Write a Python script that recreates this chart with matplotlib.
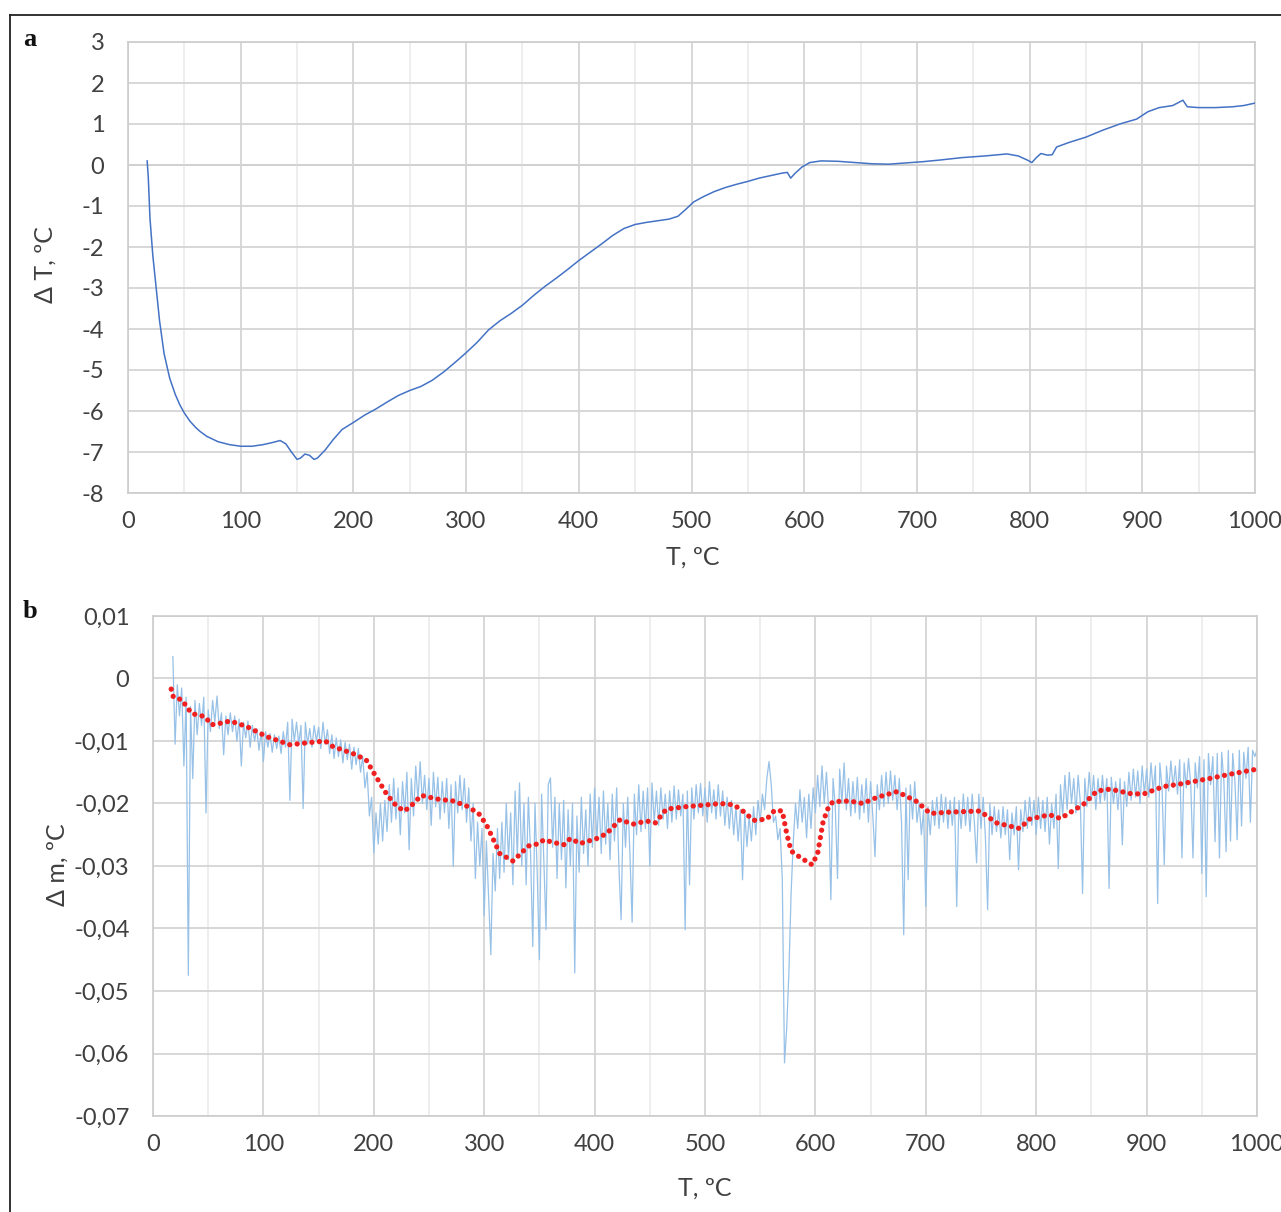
import numpy as np
import matplotlib
matplotlib.use("Agg")
import matplotlib.pyplot as plt
from matplotlib.lines import Line2D

# ---------------- Panel a : DTA curve ----------------
dta_T = [17, 18, 19.5, 22, 25, 28, 32, 37, 42, 46, 50, 55, 60, 64, 70, 80, 90, 100, 110, 120,
         128, 135, 140, 145, 150, 153, 157, 161, 165, 168, 175, 182, 190, 200, 210, 220, 230,
         240, 250, 260, 270, 280, 290, 300, 310, 320, 330, 340, 350, 360, 370, 380, 390, 400,
         410, 420, 430, 440, 450, 460, 470, 480, 488, 495, 502, 510, 520, 530, 540, 550, 560,
         570, 580, 585, 588, 592, 598, 605, 615, 630, 645, 660, 675, 690, 705, 720, 740, 760,
         780, 790, 798, 802, 806, 810, 816, 820, 824, 835, 850, 865, 880, 895, 905, 915, 927,
         936, 940, 950, 965, 980, 990, 1000]
dta_dT = [0.10, -0.3, -1.3, -2.2, -3.0, -3.8, -4.6, -5.2, -5.6, -5.85, -6.05, -6.25, -6.4, -6.5,
          -6.62, -6.75, -6.82, -6.86, -6.86, -6.82, -6.77, -6.72, -6.8, -7.0, -7.18, -7.15,
          -7.05, -7.08, -7.18, -7.15, -6.95, -6.7, -6.45, -6.28, -6.1, -5.95, -5.78, -5.62,
          -5.5, -5.4, -5.25, -5.05, -4.82, -4.58, -4.32, -4.02, -3.8, -3.62, -3.42, -3.18,
          -2.96, -2.76, -2.55, -2.33, -2.13, -1.93, -1.72, -1.55, -1.45, -1.4, -1.36, -1.32,
          -1.25, -1.08, -0.9, -0.78, -0.65, -0.55, -0.47, -0.4, -0.32, -0.26, -0.2, -0.18,
          -0.32, -0.2, -0.05, 0.06, 0.1, 0.09, 0.06, 0.03, 0.02, 0.05, 0.08, 0.12, 0.18, 0.22,
          0.27, 0.22, 0.12, 0.06, 0.18, 0.28, 0.24, 0.25, 0.44, 0.55, 0.68, 0.85, 1.0, 1.12,
          1.3, 1.4, 1.45, 1.58, 1.42, 1.4, 1.4, 1.42, 1.45, 1.51]

# ---------------- Panel b : TG difference (raw, 2 degC step from 18 to 1000) ----------------
tg_T_start, tg_T_end, tg_T_step = 18, 1000, 2
tg_dm = [
    0.0035, -0.0105, -0.0010, -0.0060, -0.0015, -0.0140, -0.0030, -0.0475, -0.0045, -0.0160,
    -0.0035, -0.0090, -0.0040, -0.0075, -0.0030, -0.0215, -0.0050, -0.0085, -0.0035, -0.0070,
    -0.0028, -0.0080, -0.0055, -0.0122, -0.0060, -0.0090, -0.0055, -0.0085, -0.0060, -0.0100,
    -0.0065, -0.0140, -0.0070, -0.0095, -0.0068, -0.0110, -0.0075, -0.0100, -0.0080, -0.0115,
    -0.0085, -0.0133, -0.0085, -0.0110, -0.0088, -0.0118, -0.0090, -0.0112, -0.0092, -0.0120,
    -0.0085, -0.0110, -0.0070, -0.0195, -0.0065, -0.0100, -0.0070, -0.0105, -0.0075, -0.0208,
    -0.0070, -0.0105, -0.0080, -0.0110, -0.0075, -0.0100, -0.0078, -0.0112, -0.0070, -0.0105,
    -0.0082, -0.0120, -0.0090, -0.0128, -0.0095, -0.0125, -0.0098, -0.0135, -0.0102, -0.0130,
    -0.0105, -0.0145, -0.0110, -0.0138, -0.0112, -0.0150, -0.0125, -0.0175, -0.0150, -0.0220,
    -0.0190, -0.0279, -0.0215, -0.0265, -0.0200, -0.0260, -0.0195, -0.0245, -0.0170, -0.0230,
    -0.0160, -0.0225, -0.0175, -0.0250, -0.0165, -0.0215, -0.0150, -0.0274, -0.0160, -0.0220,
    -0.0140, -0.0195, -0.0133, -0.0200, -0.0155, -0.0210, -0.0160, -0.0235, -0.0150, -0.0205,
    -0.0158, -0.0225, -0.0165, -0.0215, -0.0160, -0.0240, -0.0170, -0.0301, -0.0165, -0.0215,
    -0.0155, -0.0210, -0.0160, -0.0230, -0.0175, -0.0260, -0.0200, -0.0320, -0.0230, -0.0300,
    -0.0240, -0.0380, -0.0260, -0.0350, -0.0442, -0.0280, -0.0340, -0.0240, -0.0320, -0.0230,
    -0.0310, -0.0200, -0.0290, -0.0215, -0.0330, -0.0180, -0.0285, -0.0167, -0.0300, -0.0200,
    -0.0330, -0.0190, -0.0280, -0.0429, -0.0200, -0.0310, -0.0450, -0.0185, -0.0290, -0.0402,
    -0.0170, -0.0159, -0.0270, -0.0190, -0.0320, -0.0200, -0.0290, -0.0195, -0.0335, -0.0210,
    -0.0300, -0.0200, -0.0471, -0.0220, -0.0310, -0.0190, -0.0280, -0.0210, -0.0300, -0.0185,
    -0.0270, -0.0175, -0.0260, -0.0190, -0.0280, -0.0180, -0.0265, -0.0200, -0.0290, -0.0185,
    -0.0260, -0.0175, -0.0300, -0.0386, -0.0200, -0.0270, -0.0190, -0.0280, -0.0390, -0.0185,
    -0.0250, -0.0170, -0.0245, -0.0180, -0.0240, -0.0175, -0.0300, -0.0167, -0.0230, -0.0180,
    -0.0235, -0.0175, -0.0225, -0.0185, -0.0240, -0.0180, -0.0230, -0.0172, -0.0225, -0.0178,
    -0.0220, -0.0185, -0.0402, -0.0180, -0.0330, -0.0175, -0.0225, -0.0170, -0.0215, -0.0168,
    -0.0220, -0.0175, -0.0230, -0.0165, -0.0215, -0.0178, -0.0225, -0.0170, -0.0220, -0.0180,
    -0.0235, -0.0190, -0.0240, -0.0195, -0.0250, -0.0205, -0.0260, -0.0210, -0.0322, -0.0215,
    -0.0269, -0.0220, -0.0260, -0.0205, -0.0250, -0.0195, -0.0230, -0.0185, -0.0210, -0.0160,
    -0.0133, -0.0170, -0.0230, -0.0220, -0.0258, -0.0240, -0.0320, -0.0615, -0.0560, -0.0470,
    -0.0343, -0.0260, -0.0200, -0.0240, -0.0178, -0.0230, -0.0190, -0.0255, -0.0185, -0.0240,
    -0.0175, -0.0215, -0.0155, -0.0205, -0.0140, -0.0200, -0.0150, -0.0210, -0.0354, -0.0160,
    -0.0205, -0.0320, -0.0145, -0.0200, -0.0135, -0.0210, -0.0160, -0.0220, -0.0165, -0.0215,
    -0.0158, -0.0225, -0.0170, -0.0215, -0.0160, -0.0230, -0.0165, -0.0220, -0.0285, -0.0170,
    -0.0210, -0.0155, -0.0205, -0.0150, -0.0200, -0.0148, -0.0195, -0.0155, -0.0210, -0.0160,
    -0.0230, -0.0410, -0.0175, -0.0322, -0.0170, -0.0225, -0.0165, -0.0230, -0.0200, -0.0250,
    -0.0210, -0.0365, -0.0205, -0.0250, -0.0195, -0.0235, -0.0190, -0.0240, -0.0185, -0.0230,
    -0.0190, -0.0240, -0.0195, -0.0235, -0.0190, -0.0365, -0.0195, -0.0240, -0.0185, -0.0235,
    -0.0190, -0.0245, -0.0185, -0.0230, -0.0295, -0.0185, -0.0240, -0.0190, -0.0255, -0.0370,
    -0.0200, -0.0250, -0.0205, -0.0245, -0.0210, -0.0255, -0.0205, -0.0250, -0.0210, -0.0290,
    -0.0215, -0.0250, -0.0205, -0.0306, -0.0210, -0.0245, -0.0195, -0.0240, -0.0190, -0.0235,
    -0.0195, -0.0250, -0.0190, -0.0240, -0.0195, -0.0245, -0.0190, -0.0265, -0.0200, -0.0240,
    -0.0185, -0.0304, -0.0170, -0.0220, -0.0155, -0.0210, -0.0150, -0.0200, -0.0160, -0.0215,
    -0.0155, -0.0200, -0.0344, -0.0160, -0.0205, -0.0150, -0.0195, -0.0155, -0.0210, -0.0160,
    -0.0200, -0.0155, -0.0195, -0.0160, -0.0336, -0.0158, -0.0200, -0.0165, -0.0210, -0.0160,
    -0.0266, -0.0165, -0.0205, -0.0150, -0.0195, -0.0145, -0.0190, -0.0148, -0.0200, -0.0140,
    -0.0185, -0.0145, -0.0190, -0.0135, -0.0180, -0.0140, -0.0360, -0.0135, -0.0175, -0.0298,
    -0.0140, -0.0180, -0.0132, -0.0175, -0.0140, -0.0185, -0.0130, -0.0287, -0.0135, -0.0175,
    -0.0128, -0.0170, -0.0287, -0.0135, -0.0175, -0.0125, -0.0312, -0.0130, -0.0349, -0.0120,
    -0.0170, -0.0125, -0.0261, -0.0120, -0.0287, -0.0118, -0.0165, -0.0277, -0.0115, -0.0260,
    -0.0120, -0.0165, -0.0258, -0.0115, -0.0236, -0.0118, -0.0160, -0.0110, -0.0230, -0.0115,
    -0.0125, -0.0114,
]
tg_T = np.arange(tg_T_start, tg_T_end + 1, tg_T_step)[:len(tg_dm)]

# moving-average trend (red dotted)
ma_T = [16.5, 18.5, 26, 35, 47, 53, 60, 70, 85, 103, 124, 139, 156, 163, 181, 193, 202, 212,
        221, 228, 236, 243, 258, 272, 284, 295, 302, 310, 314, 326, 332, 340, 350, 354, 362,
        372, 378, 387, 402, 411, 423, 435, 447, 455, 465, 483, 496, 514, 526, 535, 544, 556,
        563, 570, 574, 578, 586, 597, 602, 607, 612, 616, 631, 643, 656, 674, 692, 704, 719,
        734, 749, 764, 785, 794, 812, 822, 843, 855, 867, 885, 897, 915, 933, 957, 976, 997]
ma_dm = [-0.0017, -0.0030, -0.0034, -0.0056, -0.0061, -0.0074, -0.0072, -0.0068, -0.0077,
         -0.0093, -0.0106, -0.0103, -0.0100, -0.0109, -0.0120, -0.0130, -0.0157, -0.0186,
         -0.0205, -0.0212, -0.0200, -0.0187, -0.0193, -0.0196, -0.0204, -0.0216, -0.0234,
         -0.0264, -0.0280, -0.0292, -0.0282, -0.0268, -0.0264, -0.0258, -0.0262, -0.0266,
         -0.0256, -0.0264, -0.0256, -0.0248, -0.0226, -0.0233, -0.0228, -0.0231, -0.0209,
         -0.0205, -0.0203, -0.0200, -0.0202, -0.0213, -0.0227, -0.0225, -0.0211, -0.0212,
         -0.0248, -0.0276, -0.0286, -0.0298, -0.0280, -0.0229, -0.0205, -0.0197, -0.0196,
         -0.0200, -0.0190, -0.0181, -0.0197, -0.0216, -0.0214, -0.0213, -0.0212, -0.0231,
         -0.0240, -0.0225, -0.0218, -0.0224, -0.0201, -0.0180, -0.0177, -0.0184, -0.0185,
         -0.0173, -0.0168, -0.0160, -0.0153, -0.0146]

# ---------------- tick labels ----------------
a_xticks = [0, 100, 200, 300, 400, 500, 600, 700, 800, 900, 1000]
a_yticks = [3, 2, 1, 0, -1, -2, -3, -4, -5, -6, -7, -8]
b_yticks = [0.01, 0.0, -0.01, -0.02, -0.03, -0.04, -0.05, -0.06, -0.07]
b_ylabels = ["0,01", "0", "-0,01", "-0,02", "-0,03", "-0,04", "-0,05", "-0,06", "-0,07"]

FONT = "Lato"
TICK_FS = 17
LAB_FS = 18
TXT = "#404040"
GRID_MAJ = "#d4d4d4"
GRID_MIN = "#ebebeb"

W, H = 1281, 1212
fig = plt.figure(figsize=(W / 100, H / 100), dpi=100)
fig.patch.set_facecolor("white")


def style_axes(ax):
    ax.set_xlim(0, 1000)
    ax.set_xticks(a_xticks)
    ax.set_xticks(np.arange(50, 1000, 100), minor=True)
    ax.grid(True, which="major", color=GRID_MAJ, lw=1.3, zorder=0)
    ax.grid(True, which="minor", axis="x", color=GRID_MIN, lw=1.2, zorder=0)
    ax.tick_params(which="both", length=0)
    ax.tick_params(axis="x", pad=13)
    ax.tick_params(axis="y", pad=17)
    for s in ax.spines.values():
        s.set_color("#cccccc")
        s.set_linewidth(1.2)
    for lab in ax.get_xticklabels() + ax.get_yticklabels():
        lab.set_fontfamily(FONT)
        lab.set_fontsize(TICK_FS)
        lab.set_color(TXT)
    ax.set_axisbelow(True)


# panel a
axa = fig.add_axes([128 / W, 1 - 493 / H, (1255 - 128) / W, (493 - 42) / H])
axa.set_ylim(-8, 3)
axa.set_yticks(a_yticks)
axa.set_yticklabels([str(v) for v in a_yticks])
axa.set_xticklabels([str(v) for v in a_xticks])
style_axes(axa)
axa.axhline(0, color="#b8b8b8", lw=1.3, zorder=0.5)
axa.plot(dta_T, dta_dT, color="#4472C4", lw=1.1, zorder=3)

# panel b
axb = fig.add_axes([153 / W, 1 - 1116 / H, (1257 - 153) / W, (1116 - 616) / H])
axb.set_ylim(-0.07, 0.01)
axb.set_yticks(b_yticks)
axb.set_yticklabels(b_ylabels)
axb.set_xticklabels([str(v) for v in a_xticks])
style_axes(axb)
axb.plot(tg_T, tg_dm, color="#97C1E7", lw=0.9, zorder=2)
axb.plot(ma_T, ma_dm, color="#F02020", lw=3.8, linestyle=(0, (0.01, 1.4)),
         dash_capstyle="round", solid_capstyle="round", zorder=3)

# axis titles
fig.text(45 / W, 1 - 265 / H, "Δ T, ºC", rotation=90, ha="center", va="center",
         fontsize=LAB_FS, family=FONT, color=TXT)
fig.text(693 / W, 1 - 557 / H, "T, ºC", ha="center", va="center",
         fontsize=LAB_FS, family=FONT, color=TXT)
fig.text(57 / W, 1 - 865 / H, "Δ m, ºC", rotation=90, ha="center", va="center",
         fontsize=LAB_FS, family=FONT, color=TXT)
fig.text(705 / W, 1 - 1188 / H, "T, ºC", ha="center", va="center",
         fontsize=LAB_FS, family=FONT, color=TXT)

# panel letters
fig.text(30 / W, 1 - 40 / H, "a", ha="center", va="center", fontsize=19,
         family="Liberation Serif", weight="bold", color="#111111")
fig.text(30 / W, 1 - 612 / H, "b", ha="center", va="center", fontsize=19,
         family="Liberation Serif", weight="bold", color="#111111")

# outer frame (left and top edges)
fig.add_artist(Line2D([10 / W, 10 / W], [0, 1 - 15 / H], color="#222222", lw=1.3,
                      transform=fig.transFigure))
fig.add_artist(Line2D([10 / W, 1], [1 - 15 / H, 1 - 15 / H], color="#222222", lw=1.3,
                      transform=fig.transFigure))

fig.savefig("out.png", dpi=100)
